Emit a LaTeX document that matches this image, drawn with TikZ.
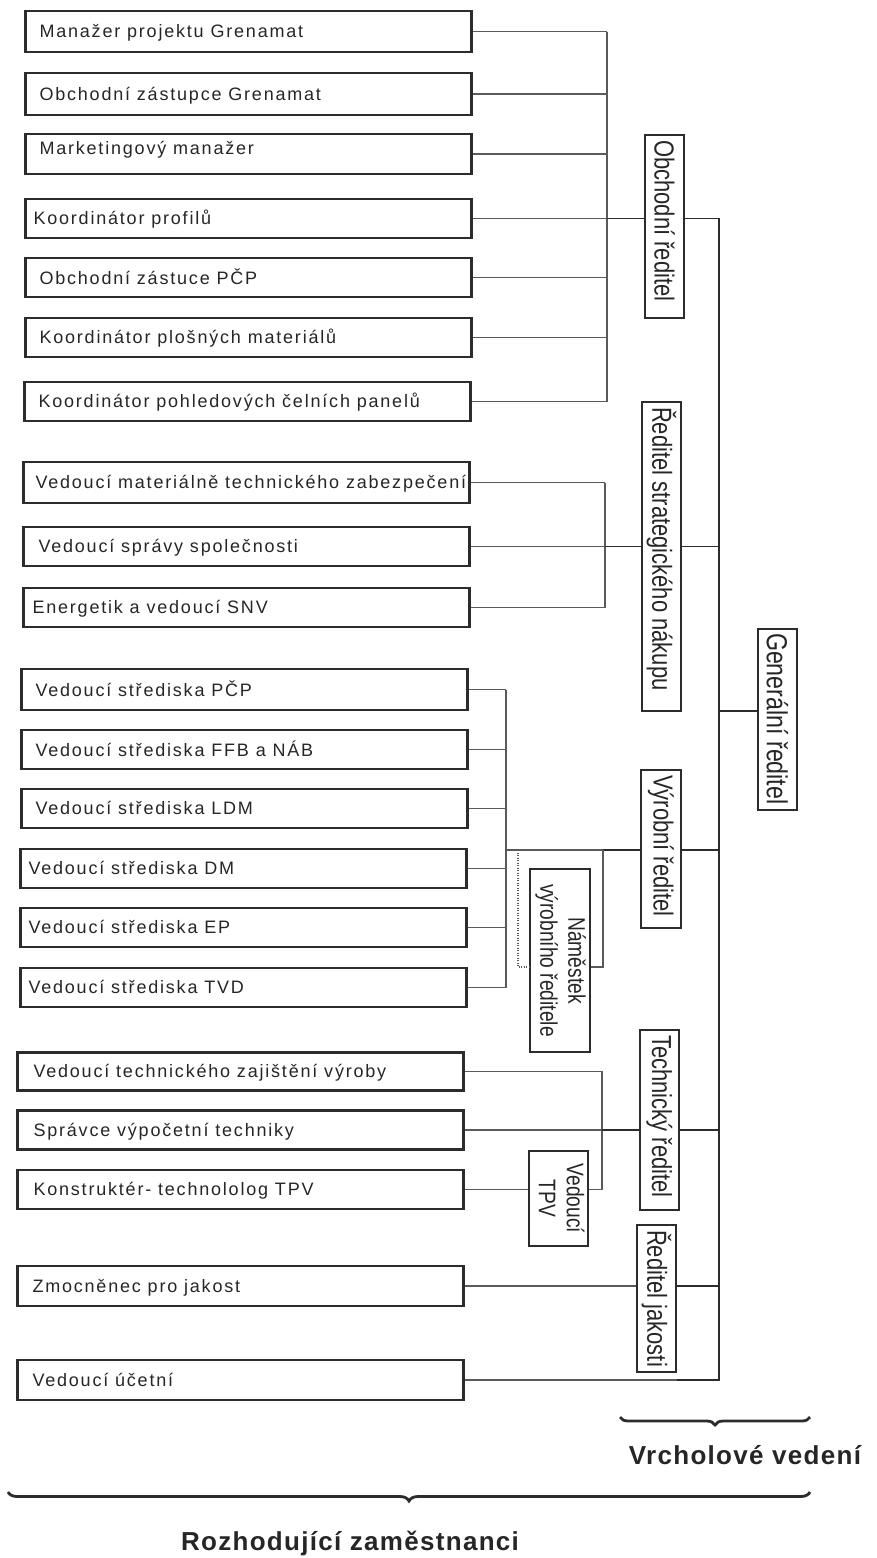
\documentclass[tikz,border=0pt]{standalone}
\usepackage{graphicx}
\usepackage{fontspec}
\setmainfont{Liberation Sans}
\newfontfamily\boxfont[LetterSpace=10]{Liberation Sans}
\newfontfamily\dirfont[FakeStretch=0.8]{Liberation Sans}
\newfontfamily\botfont[LetterSpace=5]{Liberation Sans}
\usetikzlibrary{decorations.pathreplacing}
\definecolor{boxc}{HTML}{2C2C2C}
\definecolor{linec}{HTML}{5A5A5A}
\definecolor{txtc}{HTML}{262626}
\newcommand\boxtext[2]{\makebox[446pt][l]{\hspace*{#1pt}\raisebox{-2pt}[\height][\depth]{\strut #2}}}
\newcommand\vtext[2]{\rotatebox{-90}{\makebox[#1pt][l]{\hspace*{5pt}#2}}}
\tikzset{
  emp/.style={draw=boxc, line width=2.2pt, rectangle, inner sep=0pt,
    minimum width=446pt, minimum height=39pt, text=txtc,
    font=\boxfont\fontsize{18pt}{20pt}\selectfont},
  dir/.style={draw=boxc, line width=1.8pt, rectangle, inner sep=0pt,
    minimum width=39pt, text=txtc,
    font=\dirfont\fontsize{27.5pt}{30pt}\selectfont},
  sub/.style={draw=boxc, line width=1.8pt, rectangle, inner sep=0pt,
    minimum width=60pt, text=txtc,
    font=\dirfont\fontsize{24pt}{28pt}\selectfont},
  bus/.style={draw=linec, line width=1.1pt},
  trunk/.style={draw=boxc, line width=1.9pt},
  dotbus/.style={draw=linec, line width=1.1pt, dash pattern=on 1pt off 1.5pt},
  brc/.style={draw=boxc, line width=2.8pt, decorate,
    decoration={brace, mirror, amplitude=#1}},
  lbl/.style={text=txtc, font=\botfont\bfseries\fontsize{26pt}{30pt}\selectfont}
}
\begin{document}
\begin{tikzpicture}[x=1pt,y=-1pt]
\fill[white] (0,0) rectangle (877,1558);
\useasboundingbox (0,0) rectangle (877,1558);

% group 1
\node[emp, minimum height=41pt] (g1a) at (248.5,31.5) {\boxtext{14}{Manažer projektu Grenamat}};
\node[emp, minimum height=42pt] (g1b) at (248.5,94) {\boxtext{14}{Obchodní zástupce Grenamat}};
\node[emp, minimum height=40pt] (g1c) at (248.5,154) {\raisebox{6pt}[\height][\depth]{\boxtext{14}{Marketingový manažer}}};
\node[emp] (g1d) at (248.5,218.5) {\boxtext{8}{Koordinátor profilů}};
\node[emp] (g1e) at (248.5,277.5) {\boxtext{14}{Obchodní zástuce PČP}};
\node[emp] (g1f) at (248.5,337.5) {\boxtext{14}{Koordinátor plošných materiálů}};
\node[emp] (g1g) at (247.5,401.5) {\boxtext{14}{Koordinátor pohledových čelních panelů}};

% group 2
\node[emp, minimum height=41pt] (g2a) at (246.5,482.5) {\boxtext{12}{Vedoucí materiálně technického zabezpečení}};
\node[emp] (g2b) at (246.5,546.5) {\boxtext{15}{Vedoucí správy společnosti}};
\node[emp] (g2c) at (246.5,607.5) {\boxtext{9}{Energetik a vedoucí SNV}};

% group 3
\node[emp, minimum height=41pt] (g3a) at (244.5,689.5) {\boxtext{14}{Vedoucí střediska PČP}};
\node[emp] (g3b) at (244.5,749.5) {\boxtext{14}{Vedoucí střediska FFB a NÁB}};
\node[emp] (g3c) at (244.5,808.5) {\boxtext{14}{Vedoucí střediska LDM}};
\node[emp] (g3d) at (243.5,868.5) {\boxtext{8}{Vedoucí střediska DM}};
\node[emp] (g3e) at (243.5,927.5) {\boxtext{8}{Vedoucí střediska EP}};
\node[emp] (g3f) at (243.5,987.5) {\boxtext{8}{Vedoucí střediska TVD}};

% group 4
\node[emp, minimum height=38pt] (g4a) at (240.5,1071.5) {\boxtext{16}{Vedoucí technického zajištění výroby}};
\node[emp] (g4b) at (240.5,1130) {\boxtext{16}{Správce výpočetní techniky}};
\node[emp] (g4c) at (240.5,1189.5) {\boxtext{16}{Konstruktér- technololog TPV}};

% group 5
\node[emp, minimum height=40pt] (g5a) at (240.5,1286) {\boxtext{15}{Zmocněnec pro jakost}};
\node[emp, minimum height=40pt] (g5b) at (240.5,1380) {\boxtext{15}{Vedoucí účetní}};

% directors
\node[dir, minimum height=183pt] (obch) at (664.5,226.5) {\vtext{183}{Obchodní ředitel}};
\node[dir, minimum height=309pt] (stra) at (661.5,556.5) {\vtext{309}{Ředitel strategického nákupu}};
\node[dir, minimum height=181pt] (gen) at (777.5,719.5) {\rotatebox{-90}{\makebox[181pt][l]{\hspace*{4pt}\fontsize{29pt}{30pt}\selectfont Generální ředitel}}};
\node[dir, minimum width=40pt, minimum height=158pt] (vyr) at (661,849) {\vtext{158}{Výrobní ředitel}};
\node[dir, minimum height=180pt] (tech) at (659.5,1120) {\vtext{180}{Technický ředitel}};
\node[dir, minimum height=147pt] (jak) at (656.5,1298.5) {\vtext{147}{Ředitel jakosti}};
\node[sub, minimum height=183pt] (nam) at (560,960.5) {\rotatebox{-90}{\begin{tabular}{@{}c@{}}Náměstek\\výrobního ředitele\end{tabular}}};
\node[sub, minimum width=59pt, minimum height=95pt] (tpv) at (558.5,1198.5) {\rotatebox{-90}{\begin{tabular}{@{}c@{}}Vedoucí\\TPV\end{tabular}}};

% bus coordinates
\coordinate (mv) at (719,0);
\coordinate (b1) at (607,0);
\coordinate (b2) at (605,0);
\coordinate (b3) at (506,0);
\coordinate (b4) at (602,0);
\coordinate (gj) at (719,711);
\coordinate (j3) at (506,850);
\coordinate (n1) at (603,850);
\coordinate (n1b) at (603,967);
\coordinate (n2) at (518,850);
\coordinate (n2b) at (518,967);

% group 1 connectors
\foreach \n in {g1a,g1b,g1c,g1d,g1e,g1f,g1g}
  \draw[bus] (\n.east) -- (\n.east -| b1);
\draw[bus] (g1a.east -| b1) -- (g1g.east -| b1);
\draw[trunk] (g1d.east -| b1) -- (g1d.east -| obch.west);

% main trunk
\draw[trunk] (g1d.east -| obch.east) -| (g5b.east -| mv) -- (g5b.east -| jak.east);
\draw[bus] (g5b.east) -- (g5b.east -| jak.east);
\draw[trunk] (gj) -- (gj -| gen.west);

% group 2 connectors
\foreach \n in {g2a,g2b,g2c}
  \draw[bus] (\n.east) -- (\n.east -| b2);
\draw[bus] (g2a.east -| b2) -- (g2c.east -| b2);
\draw[trunk] (g2b.east -| b2) -- (g2b.east -| stra.west);
\draw[trunk] (g2b.east -| stra.east) -- (g2b.east -| mv);

% group 3 connectors
\foreach \n in {g3a,g3b,g3c,g3d,g3e,g3f}
  \draw[bus] (\n.east) -- (\n.east -| b3);
\draw[bus] (g3a.east -| b3) -- (g3f.east -| b3);
\draw[bus] (j3) -- (n1);
\draw[trunk] (n1) -- (n1 -| vyr.west);
\draw[trunk] (n1 -| vyr.east) -- (n1 -| mv);
\draw[bus] (n1b -| nam.east) -- (n1b) -- (n1);
\draw[dotbus] (n2) -- (n2b) -- (n2b -| nam.west);

% group 4 connectors
\draw[bus] (g4a.east) -| (b4 |- g4c.east) -- (g4c.east -| tpv.east);
\draw[bus] (g4c.east) -- (g4c.east -| tpv.west);
\draw[bus] (g4b.east) -- (g4b.east -| b4);
\draw[trunk] (g4b.east -| b4) -- (g4b.east -| tech.west);
\draw[trunk] (g4b.east -| tech.east) -- (g4b.east -| mv);

% group 5 connectors
\draw[bus] (g5a.east) -- (g5a.east -| jak.west);
\draw[trunk] (g5a.east -| jak.east) -- (g5a.east -| mv);

% braces and labels
\coordinate (bra) at (620,1417);
\coordinate (brb) at (810,1417);
\coordinate (bca) at (8,1492);
\coordinate (bcb) at (810,1492);
\draw[brc=8pt] (bra) -- (brb);
\draw[brc=9pt] (bca) -- (bcb);
\node[lbl] (vv) at (745,1455) {Vrcholové vedení};
\node[lbl] (rz) at (350,1543) {Rozhodující zaměstnanci};
\end{tikzpicture}
\end{document}
